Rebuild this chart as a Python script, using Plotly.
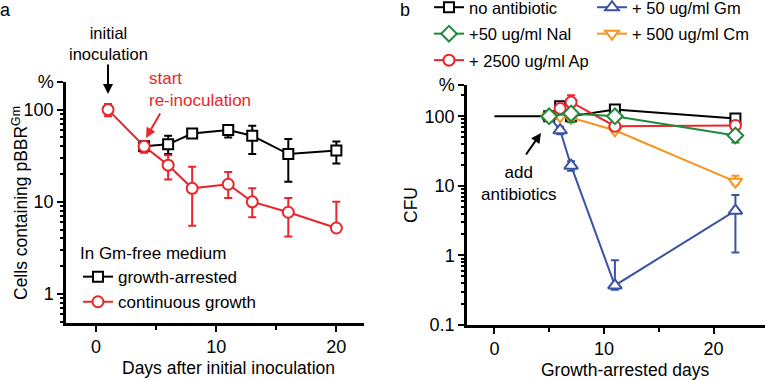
import plotly.graph_objects as go

W, H = 766, 380

# ---------------- Panel a data ----------------
a_arrest_days = [4, 6, 8, 11, 13, 16, 20]
a_arrest_pct = [40, 42, 55, 60, 52, 33, 36]
a_arrest_up = [4, 10, 4, 8, 15, 15, 9]
a_arrest_dn = [4, 9, 4, 10, 19, 16.5, 10]

a_cont_days = [1, 4, 6, 8, 11, 13, 16, 20]
a_cont_pct = [100, 40, 25, 14, 15.5, 10, 7.7, 5.2]
a_cont_up = [15, 4, 7, 10, 5.5, 4, 3.3, 4.8]
a_cont_dn = [15, 6, 7.5, 8.5, 4.5, 3.2, 3.5, 0]

# ---------------- Panel b data ----------------
b_none_days = [0, 5, 6, 7, 11, 22]
b_none_cfu = [100, 100, 140, 100, 125, 93]
b_none_err = [0, 0, 15, 5, 10, 8]

b_gm_days = [5, 6, 7, 11, 22]
b_gm_cfu = [100, 63, 19.5, 0.37, 4.4]
b_gm_up = [0, 8, 3, 0.48, 3.0]
b_gm_dn = [0, 8, 3, 0.05, 3.3]

b_nal_days = [5, 7, 11, 22]
b_nal_cfu = [100, 110, 100, 53]
b_nal_up = [0, 20, 10, 10]
b_nal_dn = [0, 28, 10, 11]

b_cm_days = [5, 6, 7, 11, 22]
b_cm_cfu = [100, 100, 95, 63, 11.5]
b_cm_up = [0, 0, 5, 5, 2.5]
b_cm_dn = [0, 0, 5, 5, 1]

b_ap_days = [5, 6, 7, 11, 22]
b_ap_cfu = [100, 130, 160, 72, 74]
b_ap_up = [0, 15, 40, 5, 8]
b_ap_dn = [0, 15, 20, 5, 8]

BLACK = "#000000"
RED = "#e8262b"
BLUE = "#3a52a3"
GREEN = "#1f8a3b"
ORANGE = "#f7941d"
FONT = "Liberation Sans, Arial, sans-serif"

fig = go.Figure()


def series(x, y, up, dn, color, symbol, name, xa, ya, legend, rank, size=10):
    fig.add_trace(go.Scatter(
        x=x, y=y, mode="lines+markers", name=name,
        xaxis=xa, yaxis=ya, legend=legend, legendrank=rank,
        legendgroup=name,
        line=dict(color=color, width=2),
        marker=dict(symbol=symbol, size=size, color="white",
                    line=dict(color=color, width=2)),
        error_y=dict(type="data", symmetric=False, array=up, arrayminus=dn,
                     color=color, thickness=2, width=4),
    ))


# panel a
series(a_arrest_days, a_arrest_pct, a_arrest_up, a_arrest_dn, BLACK, "square",
       "growth-arrested", "x", "y", "legend", 1, 10)
series(a_cont_days, a_cont_pct, a_cont_up, a_cont_dn, RED, "circle",
       "continuous growth", "x", "y", "legend", 2, 11)

# panel b: initial black segment (no marker at day 0)
fig.add_trace(go.Scatter(x=b_none_days[:2], y=b_none_cfu[:2], mode="lines",
                         xaxis="x2", yaxis="y2", showlegend=False,
                         line=dict(color=BLACK, width=2)))
series(b_none_days[1:], b_none_cfu[1:], b_none_err[1:], b_none_err[1:], BLACK,
       "square", "no antibiotic", "x2", "y2", "legend2", 1, 10)
series(b_gm_days, b_gm_cfu, b_gm_up, b_gm_dn, BLUE, "triangle-up",
       "+ 50 ug/ml Gm", "x2", "y2", "legend3", 1, 12)
series(b_cm_days, b_cm_cfu, b_cm_up, b_cm_dn, ORANGE, "triangle-down",
       "+ 500 ug/ml Cm", "x2", "y2", "legend3", 2, 12)
series(b_ap_days, b_ap_cfu, b_ap_up, b_ap_dn, RED, "circle",
       "+ 2500 ug/ml Ap", "x2", "y2", "legend2", 3, 11)
series(b_nal_days, b_nal_cfu, b_nal_up, b_nal_dn, GREEN, "diamond",
       "+50 ug/ml Nal", "x2", "y2", "legend2", 2, 12)


def px_x(p):
    return p / W


def px_y(p):
    return 1 - p / H


axis_common = dict(showline=True, linecolor="black", linewidth=2.5,
                   ticks="outside", ticklen=6, tickwidth=2, tickcolor="black",
                   showgrid=False, zeroline=False,
                   tickfont=dict(family=FONT, size=18, color="black"))

a_top = 10 ** 2.30
b_top = 10 ** 2.45

leg_common = dict(xanchor="left", yanchor="top", bgcolor="rgba(0,0,0,0)",
                  borderwidth=0, traceorder="grouped", itemwidth=30,
                  orientation="v")

fig.update_layout(
    width=W, height=H,
    margin=dict(l=0, r=0, t=0, b=0, pad=0, autoexpand=False),
    paper_bgcolor="white", plot_bgcolor="white",
    font=dict(family=FONT, size=16, color="black"),
    xaxis=dict(domain=[px_x(66), px_x(364)], range=[-2.5, 22.3],
               tickvals=[0, 10, 20], anchor="y",
               minor=dict(ticks="outside", ticklen=4, tickwidth=2, dtick=5,
                          tick0=0, showgrid=False),
               **axis_common),
    yaxis=dict(domain=[px_y(323), px_y(82)], type="log",
               range=[-0.315, 2.30], anchor="x",
               tickvals=[1, 10, 100, a_top], ticktext=["1", "10", "100", "%"],
               minor=dict(ticks="outside", ticklen=3, tickwidth=1.5,
                          dtick="D1", showgrid=False),
               **axis_common),
    xaxis2=dict(domain=[px_x(467), px_x(765)], range=[-2.5, 24.7],
                tickvals=[0, 10, 20], anchor="y2",
                minor=dict(ticks="outside", ticklen=4, tickwidth=2, dtick=5,
                           tick0=0, showgrid=False),
                **axis_common),
    yaxis2=dict(domain=[px_y(325), px_y(85)], type="log",
                range=[-1, 2.45], anchor="x2",
                tickvals=[0.1, 1, 10, 100, b_top],
                ticktext=["0.1", "1", "10", "100", "%"],
                minor=dict(ticks="outside", ticklen=3, tickwidth=1.5,
                           dtick="D1", showgrid=False),
                **axis_common),
    legend=dict(x=px_x(78), y=px_y(237),
                title=dict(text="In Gm-free medium",
                           font=dict(family=FONT, size=17)),
                font=dict(family=FONT, size=17), tracegroupgap=0,
                **leg_common),
    legend2=dict(x=px_x(429), y=px_y(-10),
                 font=dict(family=FONT, size=16.5), tracegroupgap=2,
                 **leg_common),
    legend3=dict(x=px_x(592), y=px_y(-10),
                 font=dict(family=FONT, size=16.5), tracegroupgap=2,
                 **leg_common),
    showlegend=True,
)

ann = []


def text(x, y, s, color="black", size=16, angle=0, xanchor="center", align="center"):
    ann.append(dict(x=px_x(x), y=px_y(y), xref="paper", yref="paper", text=s,
                    showarrow=False, textangle=angle, xanchor=xanchor,
                    yanchor="middle", align=align,
                    font=dict(family=FONT, size=size, color=color)))


def arrow(x0, y0, x1, y1, color):
    ann.append(dict(x=px_x(x1), y=px_y(y1), xref="paper", yref="paper",
                    ax=x0 - x1, ay=y0 - y1, axref="pixel", ayref="pixel",
                    text="", showarrow=True, arrowhead=2, arrowsize=1,
                    arrowwidth=2, arrowcolor=color))


text(6, 10, "a", size=18)
text(405, 10, "b", size=18)
text(108, 43, "initial<br>inoculation", size=16.5)
arrow(108, 63, 108, 94, BLACK)
text(147, 90, "start<br>re-inoculation", color=RED, size=17, xanchor="left", align="left")
arrow(161, 112, 146, 138, RED)
text(519, 184, "add<br>antibiotics", size=17)
arrow(525, 156, 541, 133, BLACK)

text(20, 203, "Cells containing pBBR<sup>Gm</sup>", size=17.5, angle=-90)
text(228, 368, "Days after initial inoculation", size=17.5)
text(411, 205, "CFU", size=17.5, angle=-90)
text(625, 370, "Growth-arrested days", size=17.5)

fig.update_layout(annotations=ann)

fig.write_html("out.html", config={"displayModeBar": False},
               post_script="document.body.style.margin='0';")
